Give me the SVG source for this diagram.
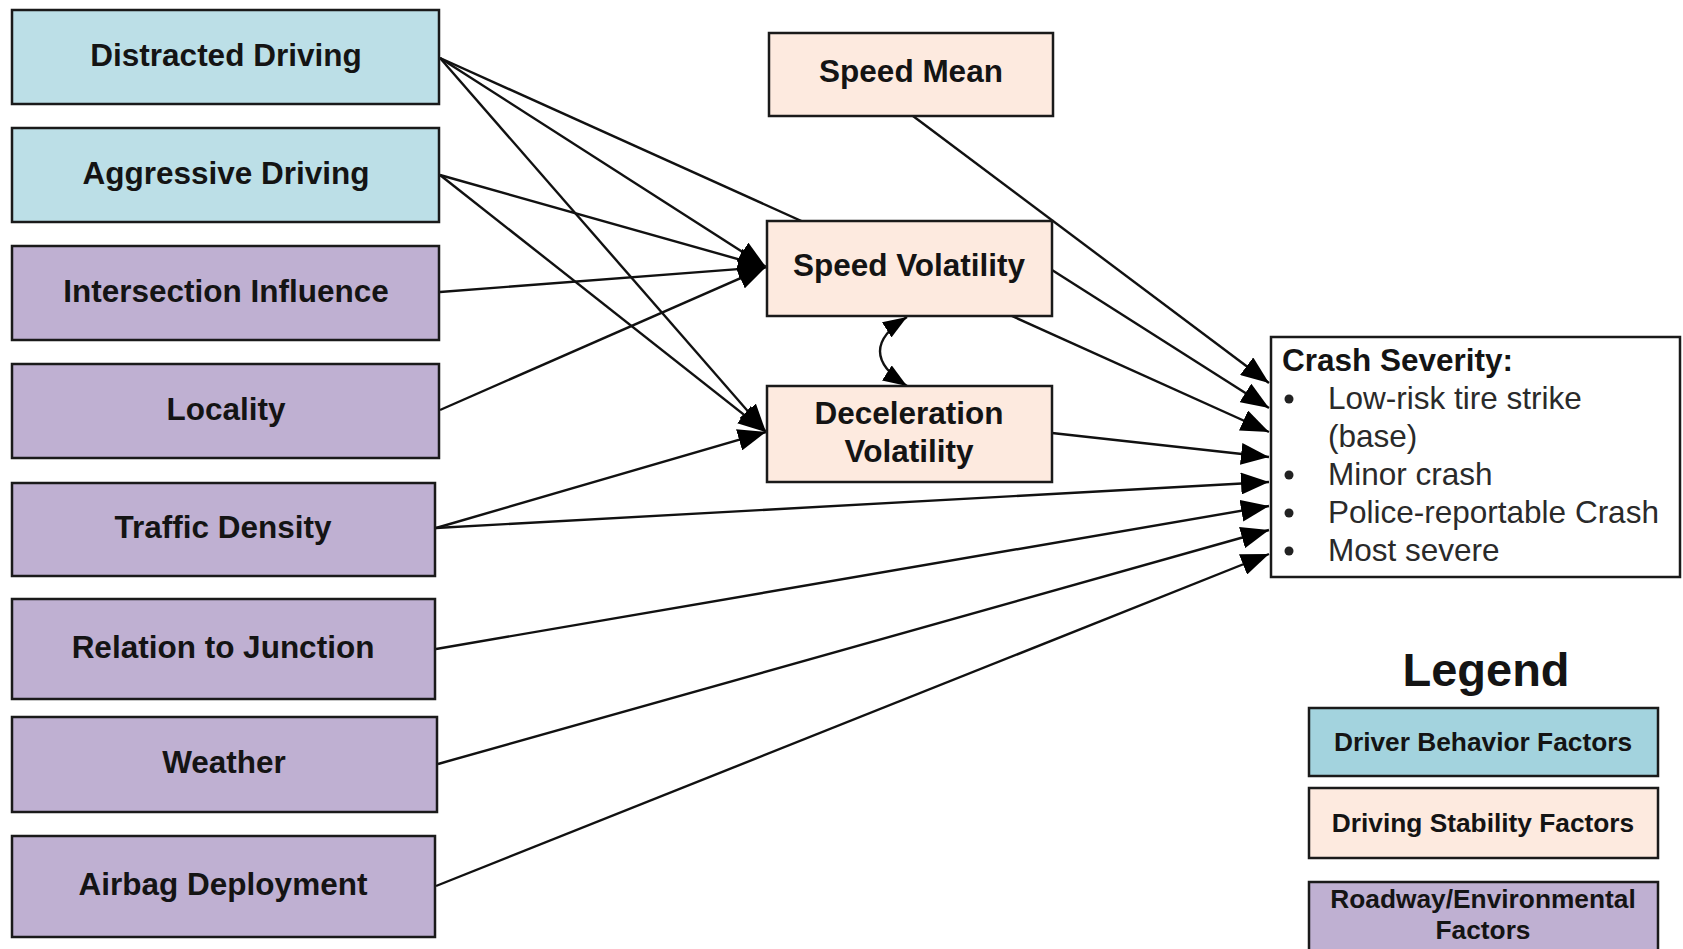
<svg xmlns="http://www.w3.org/2000/svg" width="1683" height="949" viewBox="0 0 1683 949">
<style>
  .box { stroke: #1a1a1a; stroke-width: 2.5; }
  .blue { fill: #bcdfe7; }
  .lblue { fill: #a3d3de; }
  .peach { fill: #fdeadf; }
  .purple { fill: #bfb0d2; }
  .white { fill: #ffffff; }
  .lbl { font-family: "Liberation Sans", Arial, sans-serif; font-weight: bold; font-size: 31.5px; fill: #141414; text-anchor: middle; }
  .leg { font-family: "Liberation Sans", Arial, sans-serif; font-weight: bold; font-size: 26.3px; fill: #141414; text-anchor: middle; }
  .item { font-family: "Liberation Sans", Arial, sans-serif; font-size: 31.5px; fill: #2a2a2a; }
  .conn { fill: none; stroke: #111; stroke-width: 2.4; marker-end: url(#arr); }
</style>
<defs>
  <marker id="arr" markerUnits="userSpaceOnUse" markerWidth="28" markerHeight="22" refX="28" refY="11" orient="auto" viewBox="0 0 28 22">
    <path d="M0,0 L28,11 L0,22 z" fill="#000"/>
  </marker>
  <marker id="arrs" markerUnits="userSpaceOnUse" markerWidth="24" markerHeight="18" refX="24" refY="9" orient="auto-start-reverse" viewBox="0 0 24 18">
    <path d="M0,0 L24,9 L0,18 z" fill="#000"/>
  </marker>
</defs>
<rect width="1683" height="949" fill="#ffffff"/>

<g id="connectors">
  <path class="conn" d="M440,58 L766,267"/>
  <path class="conn" d="M440,58 L766,432"/>
  <path class="conn" d="M440,58 L1269,432"/>
  <path class="conn" d="M440,175 L766,267"/>
  <path class="conn" d="M440,175 L766,432"/>
  <path class="conn" d="M440,292 L766,267"/>
  <path class="conn" d="M440,410 L766,267"/>
  <path class="conn" d="M436,528 L766,432"/>
  <path class="conn" d="M436,528 L1269,482"/>
  <path class="conn" d="M436,649 L1269,506"/>
  <path class="conn" d="M438,764 L1269,530"/>
  <path class="conn" d="M436,886 L1269,554"/>
  <path class="conn" d="M913,116 L1269,383"/>
  <path class="conn" d="M1052,270 L1269,408"/>
  <path class="conn" d="M1052,433 L1269,457"/>
  <path d="M907,317 Q853,351 907,386" fill="none" stroke="#111" stroke-width="2.4" marker-start="url(#arrs)" marker-end="url(#arrs)"/>
</g>

<g id="distracted-driving">
  <rect class="box blue" x="12" y="10" width="427" height="94"/>
  <text class="lbl" x="226" y="66">Distracted Driving</text>
</g>
<g id="aggressive-driving">
  <rect class="box blue" x="12" y="128" width="427" height="94"/>
  <text class="lbl" x="226" y="184">Aggressive Driving</text>
</g>
<g id="intersection-influence">
  <rect class="box purple" x="12" y="246" width="427" height="94"/>
  <text class="lbl" x="226" y="302">Intersection Influence</text>
</g>
<g id="locality">
  <rect class="box purple" x="12" y="364" width="427" height="94"/>
  <text class="lbl" x="226" y="420">Locality</text>
</g>
<g id="traffic-density">
  <rect class="box purple" x="12" y="483" width="423" height="93"/>
  <text class="lbl" x="223" y="538">Traffic Density</text>
</g>
<g id="relation-to-junction">
  <rect class="box purple" x="12" y="599" width="423" height="100"/>
  <text class="lbl" x="223" y="658">Relation to Junction</text>
</g>
<g id="weather">
  <rect class="box purple" x="12" y="717" width="425" height="95"/>
  <text class="lbl" x="224" y="773">Weather</text>
</g>
<g id="airbag-deployment">
  <rect class="box purple" x="12" y="836" width="423" height="101"/>
  <text class="lbl" x="223" y="895">Airbag Deployment</text>
</g>

<g id="speed-mean">
  <rect class="box peach" x="769" y="33" width="284" height="83"/>
  <text class="lbl" x="911" y="82">Speed Mean</text>
</g>
<g id="speed-volatility">
  <rect class="box peach" x="767" y="221" width="285" height="95"/>
  <text class="lbl" x="909" y="276">Speed Volatility</text>
</g>
<g id="deceleration-volatility">
  <rect class="box peach" x="767" y="386" width="285" height="96"/>
  <text class="lbl" x="909" y="424">Deceleration</text>
  <text class="lbl" x="909" y="462">Volatility</text>
</g>

<g id="crash-severity">
  <rect class="box white" x="1271" y="337" width="409" height="240"/>
  <text x="1282" y="371" style="font-family:'Liberation Sans',Arial,sans-serif;font-weight:bold;font-size:31.5px;fill:#141414">Crash Severity:</text>
  <circle cx="1289" cy="399" r="4.5" fill="#222"/>
  <text class="item" x="1328" y="409">Low-risk tire strike</text>
  <text class="item" x="1328" y="447">(base)</text>
  <circle cx="1289" cy="475" r="4.5" fill="#222"/>
  <text class="item" x="1328" y="485">Minor crash</text>
  <circle cx="1289" cy="513" r="4.5" fill="#222"/>
  <text class="item" x="1328" y="523">Police-reportable Crash</text>
  <circle cx="1289" cy="551" r="4.5" fill="#222"/>
  <text class="item" x="1328" y="561">Most severe</text>
</g>

<g id="legend">
  <text x="1486" y="686" style="font-family:'Liberation Sans',Arial,sans-serif;font-weight:bold;font-size:47px;fill:#141414;text-anchor:middle">Legend</text>
  <g id="legend-driver">
    <rect class="box lblue" x="1309" y="708" width="349" height="68"/>
    <text class="leg" x="1483" y="751">Driver Behavior Factors</text>
  </g>
  <g id="legend-stability">
    <rect class="box peach" x="1309" y="788" width="349" height="70"/>
    <text class="leg" x="1483" y="832">Driving Stability Factors</text>
  </g>
  <g id="legend-roadway">
    <rect class="box purple" x="1309" y="882" width="349" height="80"/>
    <text class="leg" x="1483" y="908">Roadway/Environmental</text>
    <text class="leg" x="1483" y="939">Factors</text>
  </g>
</g>
</svg>
